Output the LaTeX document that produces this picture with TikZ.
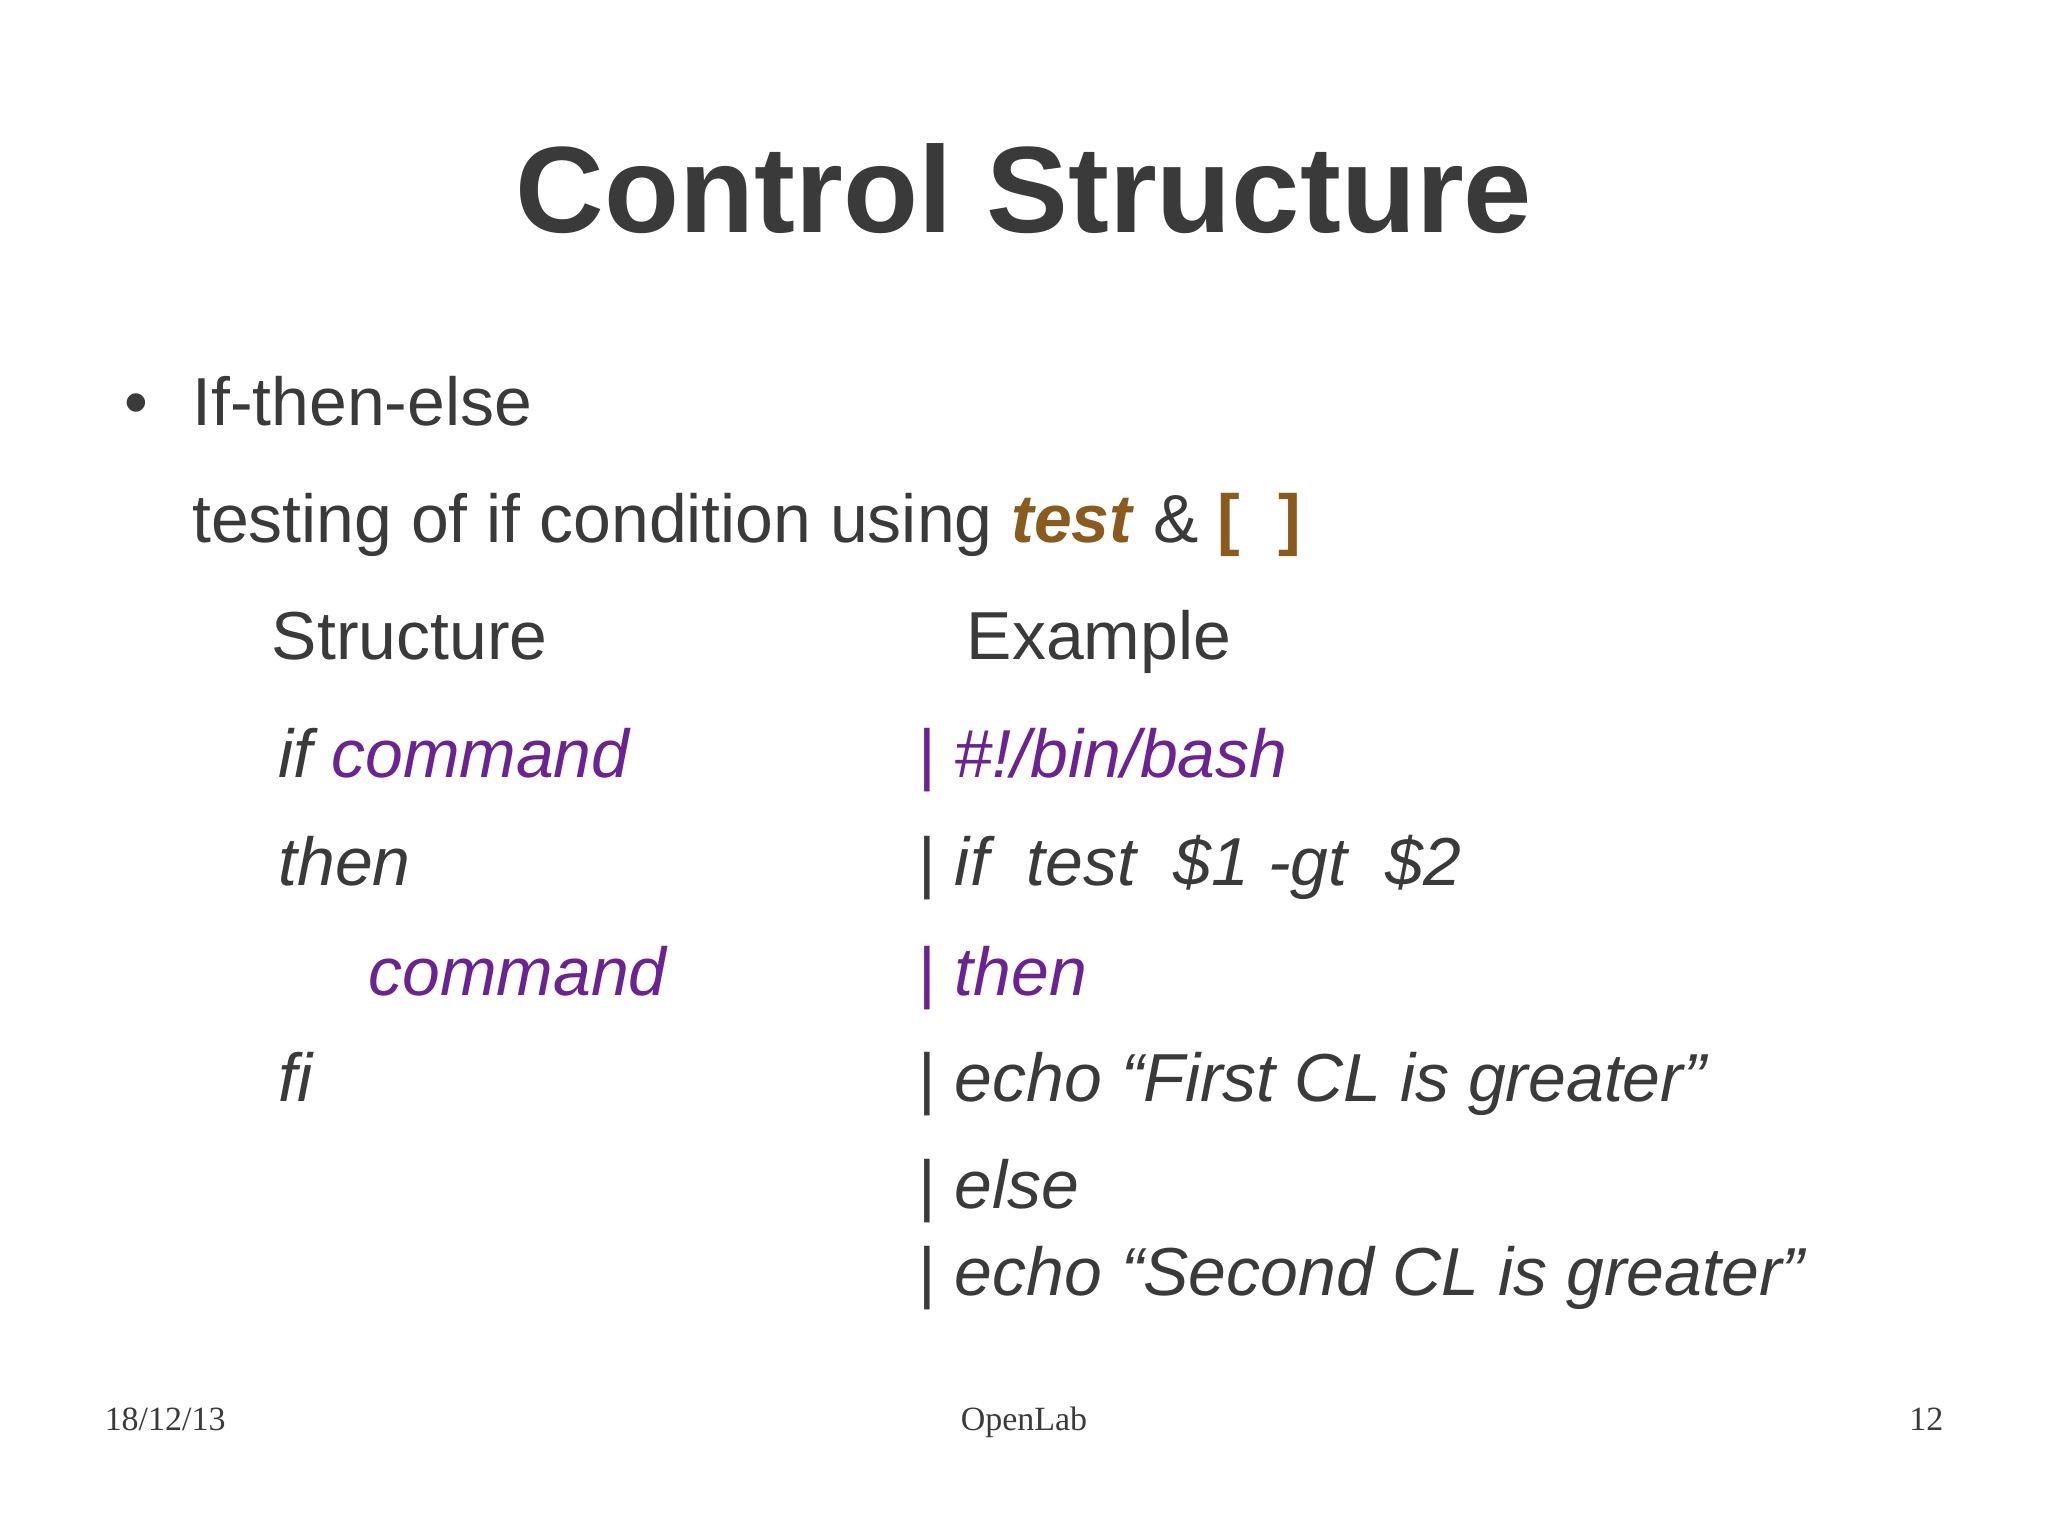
\documentclass[tikz,border=0pt]{standalone}
\usepackage{fontspec}
\setmainfont{Liberation Sans}
\newfontfamily\serifft{Liberation Serif}
\definecolor{txt}{HTML}{3A3A3A}
\definecolor{purp}{HTML}{6B2391}
\definecolor{brn}{HTML}{8B5A1E}
\begin{document}
\begin{tikzpicture}[x=1pt,y=-1pt,
  body/.style={anchor=base west,inner sep=0pt,text=txt,font=\fontsize{52}{60}\selectfont},
  code/.style={body,font=\fontsize{52}{60}\selectfont\itshape},
  foot/.style={anchor=base,inner sep=0pt,text=txt,font=\fontsize{26}{30}\selectfont\serifft}]
\useasboundingbox[fill=white] (0,0) rectangle (1568,1175);
\node[anchor=base,inner sep=0pt,text=txt,font=\fontsize{94}{100}\selectfont\bfseries] (title) at (784,178) {Control Structure};
\node[body] (bul) at (95,326) {•};
\node[body] (ite) at (147,326) {If-then-else};
\node[body] (tst) at (147,415) {testing of if condition using \textcolor{brn}{\textbf{\textit{test}}} \& \textcolor{brn}{\textbf{[\ \ ]}}};
\node[body] (st) at (208,505) {Structure};
\node[body] (ex) at (740,505) {Example};
\node[code] (l1) at (213,595) {if \textcolor{purp}{command}};
\node[code] (l2) at (213,678) {then};
\node[code,text=purp] (l3) at (282,762) {command};
\node[code] (l4) at (213,843) {fi};
\node[code,text=purp] (r1) at (703,595) {\upshape|\itshape\ \#!/bin/bash};
\node[code] (r2) at (703,678) {\upshape|\itshape\ if\ \ test\ \ \$1 -gt\ \ \$2};
\node[code,text=purp] (r3) at (703,762) {\upshape|\itshape\ then};
\node[code] (r4) at (703,843) {\upshape|\itshape\ echo “First CL is greater”};
\node[code] (r5) at (703,925) {\upshape|\itshape\ else};
\node[code] (r6) at (703,992) {\upshape|\itshape\ echo “Second CL is greater”};
\node[foot,anchor=base west] (d) at (80,1095) {18/12/13};
\node[foot] (o) at (784,1095) {OpenLab};
\node[foot,anchor=base east] (p) at (1488,1095) {12};
\end{tikzpicture}
\end{document}
